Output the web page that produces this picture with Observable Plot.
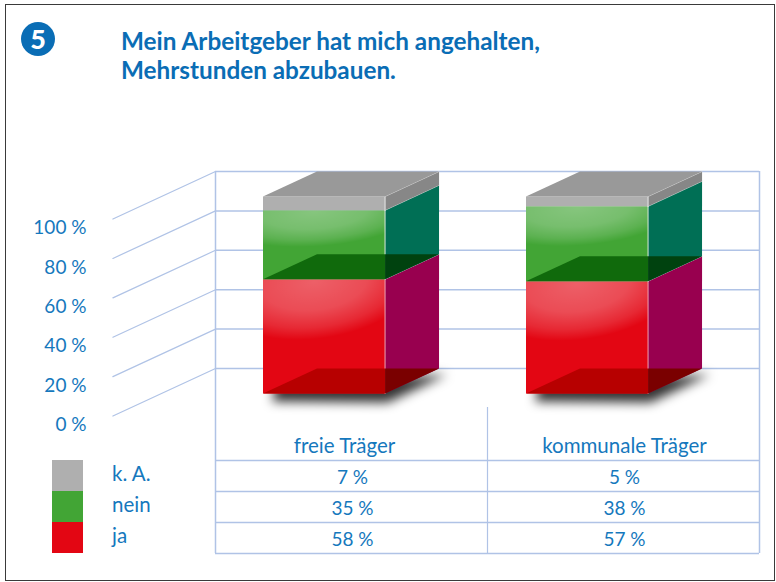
<!DOCTYPE html>
<html lang="de">
<head>
<meta charset="utf-8">
<script src="https://cdn.jsdelivr.net/npm/d3@7"></script>
<script src="https://cdn.jsdelivr.net/npm/@observablehq/plot@0.6"></script>
<style>
html,body{margin:0;padding:0;background:#fff;}
#page{position:relative;width:776px;height:582px;overflow:hidden;font-family:Lato,sans-serif;}
#frame{position:absolute;left:5px;top:4px;width:768px;height:575px;border:1.5px solid #3a3a3a;pointer-events:none;}
#head{position:relative;height:160px;}
#badge{position:absolute;left:21px;top:22px;width:34px;height:34px;border-radius:50%;background:#0a6db5;color:#fff;font-weight:900;font-size:27px;line-height:33px;text-align:center;}
#title{position:absolute;left:121px;top:26px;margin:0;color:#0a6db5;font-weight:700;font-size:24.3px;line-height:29px;white-space:nowrap;}
svg{display:block;}
</style>
</head>
<body>
<div id="page">
  <div id="frame"></div>
  <div id="head">
    <div id="badge">5</div>
    <h1 id="title">Mein Arbeitgeber hat mich angehalten,<br>Mehrstunden abzubauen.</h1>
  </div>
  <div id="chart"></div>
</div>
<script>
// ---- data ----
const categories = ["freie Träger", "kommunale Träger"];
const ja   = [58, 57];
const nein = [35, 38];
const ka   = [7, 5];
const tickValues = [0, 20, 40, 60, 80, 100];
const legendLabels = ["k. A.", "nein", "ja"];

// ---- styling ----
const textColor = "#1578bd", gridColor = "#b0c3e6";
const palette = {
  ja:   {face:"#e30613", side:"#98004f", floor:"#b70000", floorSide:"#7a0000", edge:"#f0a0b0"},
  nein: {face:"#42a535", side:"#006f55", floor:"#106a0c", floorSide:"#00420f", edge:"#d8e8d8"},
  ka:   {face:"#afafaf", side:"#878787", top:"#999999", edge:"#e8e8e8"}
};

// ---- oblique projection, in data units (x: bar index, y: percent, z: depth) ----
const barW = 0.464, depthX = 0.2053, depthY = 12.7, axisDepth = 1.9;
const px = (x, z) => x - z * depthX;
const py = (v, z) => v - z * depthY;
const pt = (x, v, z) => ({x: px(x, z), y: py(v, z)});
const xu = p => (p - 316.5) / 263;         // layout helper for wall and table
const yu = p => (368 - p) * 100 / 197;

const poly = (pts, fill, extra = {}) =>
  Plot.line(pts, {x: "x", y: "y", fill, stroke: "none", curve: "linear-closed", ...extra});

const bars = categories.map((c, i) => ({i, ja: ja[i], nein: ja[i] + nein[i], ka: ja[i] + nein[i] + ka[i]}));

function faceMarks(b) {
  const L = b.i, R = b.i + barW, m = [];
  const segs = [["ja", 0, b.ja], ["nein", b.ja, b.nein], ["ka", b.nein, b.ka]];
  for (const [k, lo, hi] of segs) {
    const p = palette[k];
    m.push(poly([pt(L, lo, 1), pt(R, lo, 1), pt(R, hi, 1), pt(L, hi, 1)], p.face));
    if (k !== "ka") m.push(poly([pt(L, lo, 1), pt(R, lo, 1), pt(R, hi, 1), pt(L, hi, 1)], "url(#gloss)"));
    m.push(poly([pt(R, lo, 1), pt(R, lo, 0), pt(R, hi, 0), pt(R, hi, 1)], p.side));
    m.push(Plot.line([pt(R, lo, 1), pt(R, hi, 1)], {x: "x", y: "y", stroke: p.edge, strokeWidth: 1}));
    if (k !== "ka") {
      // see-through floor of this segment: the part behind the front face and the part behind the side
      const corner = {x: px(R, 1), y: py(lo, 0)};
      m.push(poly([pt(L, lo, 1), pt(R, lo, 1), corner, pt(L, lo, 0)], p.floor));
      m.push(poly([pt(R, lo, 1), pt(R, lo, 0), corner], p.floorSide));
    }
    m.push(Plot.line([pt(R, hi, 1), pt(R, hi, 0)], {x: "x", y: "y", stroke: "#e6e6e6", strokeWidth: 0.8, strokeOpacity: 0.8}));
  }
  m.push(poly([pt(L, b.ka, 1), pt(R, b.ka, 1), pt(R, b.ka, 0), pt(L, b.ka, 0)], palette.ka.top));
  return m;
}

const shadow = b => {
  const L = b.i, R = b.i + barW;
  return poly([
    {x: px(L, 1) + 0.035, y: py(-4, 1)},
    {x: px(R, 1) + 0.01, y: py(-4.5, 1)},
    {x: px(R, 0) + 0.03, y: py(-3, 0)},
    {x: px(R, 1), y: py(8, 1)},
    {x: px(L, 1) + 0.05, y: py(6, 1)}
  ], "#000", {
    fillOpacity: 0.8,
    render(index, scales, values, dims, ctx, next) {
      const g = next(index, scales, values, dims, ctx);
      g.setAttribute("filter", "url(#soft)");
      return g;
    }
  });
};

const defs = () => {
  const d = d3.create("svg:defs");
  const g = d.append("radialGradient").attr("id", "gloss")
    .attr("cx", 0.5).attr("cy", 0.5).attr("r", 0.5)
    .attr("gradientTransform", "translate(0.42 0.02) rotate(-8) scale(1.75 1.0) translate(-0.5 -0.5)");
  [[0, 0.36], [0.5, 0.28], [0.8, 0.14], [1, 0]].forEach(([o, a]) =>
    g.append("stop").attr("offset", o).attr("stop-color", "#fff").attr("stop-opacity", a));
  d.append("filter").attr("id", "soft").attr("x", "-30%").attr("y", "-60%").attr("width", "160%").attr("height", "220%")
    .append("feGaussianBlur").attr("stdDeviation", 5.5);
  return d.node();
};

const wallL = xu(215), wallR = xu(759), tableMid = xu(487);
const colX = [xu(344), xu(624)];
const numX = [xu(352), xu(624)];
const rowLines = [460, 491, 522, 553].map(yu);
const rowText = [477, 508, 539].map(yu);
const rows = [ka, nein, ja];
const legendX1 = xu(52), legendX2 = xu(83), legendTextX = xu(111.5);
const legendEdges = [460, 491, 522, 553].map(yu);
const legendTextY = [474, 505, 536].map(yu);
const legendFill = [palette.ka.face, palette.nein.face, "#e30613"];
const word = {fill: textColor, fontSize: 20.5, stroke: "none"};
const num = {fill: textColor, fontSize: 19, stroke: "none"};

const chart = Plot.plot({
  width: 776, height: 422,
  marginTop: 0, marginRight: 0, marginBottom: 0, marginLeft: 0,
  x: {type: "linear", domain: [0, 1], range: [316.5, 579.5], axis: null},
  y: {type: "linear", domain: [0, 100], range: [208, 11], axis: null},
  style: {fontFamily: "Lato, sans-serif", background: "transparent", overflow: "visible"},
  marks: [
    defs,
    // back wall and depth lines
    Plot.ruleY(tickValues, {y: d => d, x1: wallL, x2: wallR, stroke: gridColor, strokeWidth: 1.5}),
    Plot.ruleX([wallL, wallR], {x: d => d, y1: 100, y2: yu(553), stroke: gridColor, strokeWidth: 1.5}),
    ...tickValues.map(t => Plot.line(
      [{x: wallL, y: t}, {x: wallL - axisDepth * depthX, y: t - axisDepth * depthY}],
      {x: "x", y: "y", stroke: gridColor, strokeWidth: 1.2})),
    // y labels
    Plot.text(tickValues, {
      x: xu(86), y: d => py(d, axisDepth) - 4.6, text: d => `${d} %`,
      textAnchor: "end", lineAnchor: "middle", ...num}),
    // bars
    ...bars.map(shadow),
    ...bars.flatMap(faceMarks),
    // table
    Plot.ruleY(rowLines, {y: d => d, x1: wallL, x2: wallR, stroke: gridColor, strokeWidth: 1.5}),
    Plot.ruleX([tableMid], {x: d => d, y1: yu(407), y2: yu(553), stroke: gridColor, strokeWidth: 1.2}),
    Plot.text(categories, {x: (d, i) => colX[i], y: yu(446), text: d => d, textAnchor: "middle", lineAnchor: "middle", ...word}),
    ...rows.map((r, ri) => Plot.text(r, {
      x: (d, i) => numX[i], y: rowText[ri], text: d => `${d} %`,
      textAnchor: "middle", lineAnchor: "middle", ...num})),
    // legend
    ...legendLabels.map((l, i) => Plot.rect([l], {
      x1: legendX1, x2: legendX2, y1: legendEdges[i], y2: legendEdges[i + 1], fill: legendFill[i]})),
    Plot.text(legendLabels, {x: legendTextX, y: (d, i) => legendTextY[i], text: d => d, textAnchor: "start", lineAnchor: "middle", ...word})
  ]
});
document.getElementById("chart").append(chart);
</script>
</body>
</html>
